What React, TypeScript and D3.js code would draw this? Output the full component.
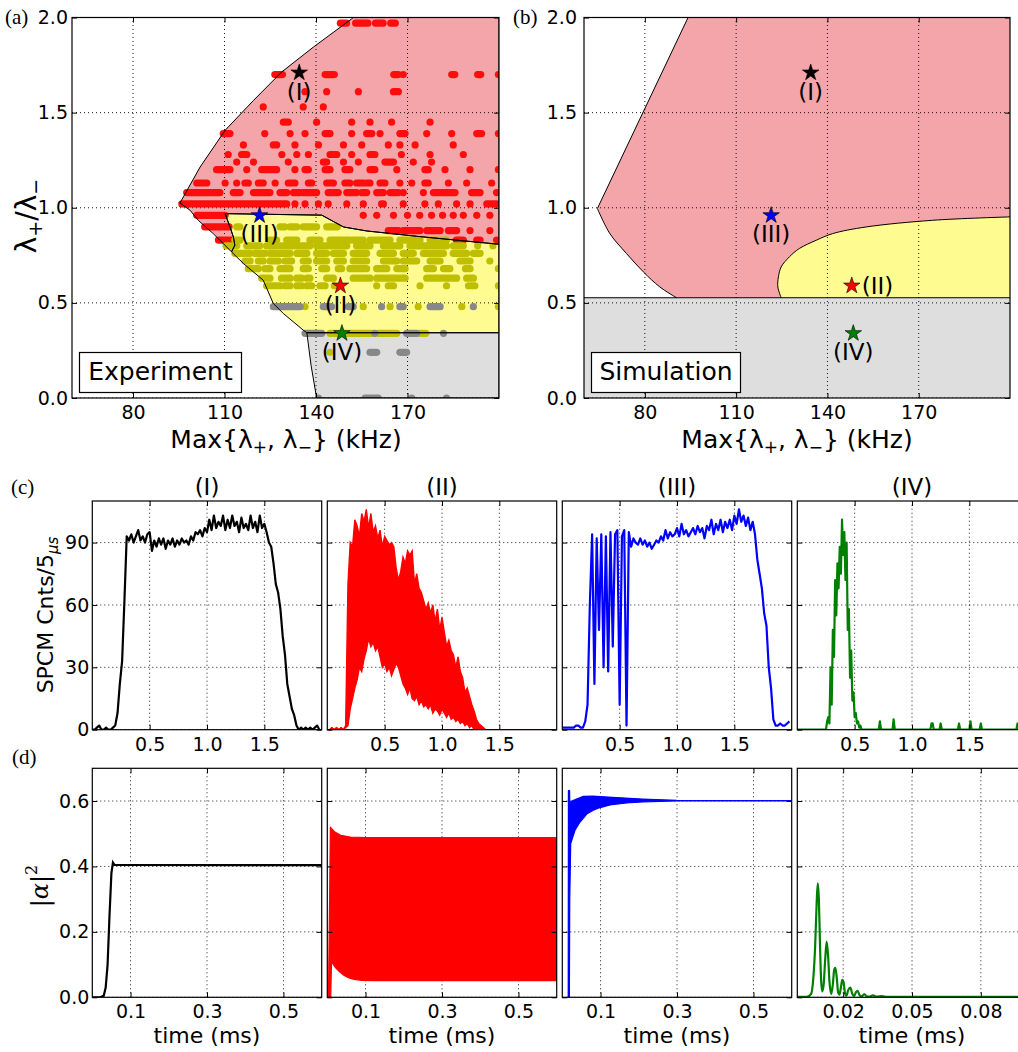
import * as d3 from "d3";
import {useEffect, useRef} from "react";

// ---------- (a), (b): phase diagrams ----------
const freqTicks = [80, 110, 140, 170];
const ratioTicks = [0, 0.5, 1.0, 1.5, 2.0];

// measured region outlines, [Max{λ+,λ−} kHz, λ+/λ−]
const expPink = [[95.4, 1.025], [102.0, 1.214], [110.2, 1.407], [119.5, 1.564], [128.7, 1.713], [139.1, 1.844], [151.7, 1.993], [152.2, 2.0], [200, 2.0], [200, 0.808], [173, 0.850], [156.6, 0.878], [149.0, 0.899], [141.9, 0.961], [110.2, 0.969], [111.8, 0.899], [112.9, 0.847], [113.4, 0.803], [112.3, 0.768], [109.6, 0.812], [106.3, 0.864], [101.4, 0.934], [98.7, 0.987]];
const expYellow = [[110.2, 0.969], [141.9, 0.961], [149.0, 0.899], [156.6, 0.878], [173, 0.850], [200, 0.808], [200, 0.343], [137, 0.343], [135.8, 0.357], [129.3, 0.444], [126, 0.497], [122.7, 0.619], [116.2, 0.707], [112.3, 0.768], [113.4, 0.803], [112.9, 0.847], [111.8, 0.899]];
const expGray = [[137, 0.343], [200, 0.343], [200, 0], [140.2, 0], [138.4, 0.17]];

// measured points: [ratio, x | [x0, x1], ...]  (a pair is a run of touching dots)
const redRows: any[] = [
  [1.97, [148, 150], [153, 157], [159.5, 162], [164.5, 166]],
  [1.70, [126.5, 129], [143, 146], [165.5, 167], 168.6, [184.5, 185.5], [193, 194], 199.8],
  [1.61, 136.4, 143.5, 153.9, [165.4, 167]],
  [1.53, 122.7, 135.8, 142.4],
  [1.45, [129.3, 130.9], 140.2, 151.7, 157.7, 164.8, 177.4],
  [1.39, [109.6, 111.8], 123.2, 131.5, 136.4, [143, 144.6], 151.7, [156.6, 158.3], 161, [167.5, 169.2], 176.3, 184.5, [192.7, 194.3], 199.8],
  [1.33, 116.2, [126, 127.1], 133.1, 140.8, 149, 155, 163.7, 167.5, 172.5, 185],
  [1.28, 111.2, [115.6, 117.3], 128.8, 133.7, 137.5, [144.6, 146.8], 151.7, [157.7, 159.3], 168, 177.4, 188.3],
  [1.24, 114, 119.5, 130.9, [142.4, 143.5], 149, 153.9, [162.6, 165.4], 171.9, 177.9],
  [1.20, [107.4, 111.8], 117.3, [122.2, 127.1], 133.1, [136.4, 137.5], [143, 144.6], [149.5, 151.1], [157.7, 159.3], 166.5, [175.7, 176.8], 182.3, 190.5, 199.8],
  [1.13, [100.9, 104.2], 110.2, 114, [116.7, 117.8], [121.1, 122.7], 126.6, [130.9, 133.1], [137.5, 138.6], [143.5, 145.7], [149.5, 151.1], [153.3, 155.5], [156.6, 157.7], [161, 162.6], 167.5, 171.4, [175.7, 176.8], 183.4, 189.4, 197.6],
  [1.08, [97.6, 108.5], [112.9, 115.1], [119.5, 124.9], [128.2, 130.4], [132.6, 134.8], [135.8, 140.2], [144, 147.3], [150.1, 153.3], [155, 156.6], [159.9, 162.1], [164.3, 167], 168.6, 175.2, [178.5, 185.6], [191, 193.8], 199.2],
  [1.02, [96, 130.4], 133.1, 136.4, 140.8, 144, 150.1, 155.5, [161.5, 162.1], 168.6, 175.7, 180.1, 186.1, 190.5, [196, 199.2]],
  [0.96, [100.9, 110.2], 155.5, 159.9, 165.4, 170, 174, 177.9, 181.5, 185, 188.3, 192.7, 197],
  [0.90, [103.5, 111.5]],
  [0.88, [163.7, 167], [168.6, 174.1], [176.3, 180.7], [183.4, 186.1], 190.5, 197],
  [0.83, [108, 112.5], [186, 188.3], [192.7, 193.8], 199.2],
];
const oliveRows: any[] = [
  [0.90, [114, 115], [128.2, 129.8], [131.5, 133.7], [135.8, 140.2], [143.5, 147]],
  [0.83, [113.4, 115.1], [124.9, 127.1], [130.4, 133.7], [138, 141.3], [144.6, 151.1], [152.2, 155.5], [157.7, 164.3], [167.5, 174.1], [177.4, 182.8]],
  [0.80, [110.5, 114], [117.3, 121.6], [123.8, 127.1], [128.2, 132.6], [133.7, 138], [140.2, 143.5], [144.6, 150.1], [153.3, 157.7], [162.1, 167.5], [170.8, 177.4], [178.5, 182.8], [185, 188.3], 193, 198],
  [0.76, [113.4, 118.4], [120, 123.3], [124.9, 131.5], [133.7, 137], [140.2, 143.5], [145.7, 149], [152.2, 156.6], [161, 165.4], [168.6, 171.9], [175.2, 181.8], [185, 189.4], [191.6, 193.8]],
  [0.72, [116.7, 118.4], [121.1, 122.7], [124.9, 127.7], [129.8, 132], [135.8, 137.5], [140.2, 143.5], [146.8, 149], [152.2, 156.6], [162.1, 166.5], [168.6, 173], [177.4, 180.7], [187.2, 190.5], 197],
  [0.68, [117.8, 121.1], [123.3, 124.9], [128.2, 131.5], [135.8, 137.5], [141.9, 143.5], [147.3, 148.4], [151.1, 156.6], [159.9, 163.2], [166.5, 169.2], [176.3, 178.5], [181.8, 183.9], [189, 190.5], 199.8],
  [0.63, [122.2, 124.9], [128.7, 131.5], [133.7, 135.3], [137, 138], [143.5, 145.7], [152.2, 157.7], [159.9, 169.2], [176.3, 186.1], [189.4, 191.6]],
  [0.59, [123.8, 128.2], [129.8, 131.5], [133.7, 135.3], [137, 138.6], [141.3, 143], 146, 159.9, [163.7, 165.4], 174.1, 182.8, [190, 192.1], 199.8],
  [0.48, 136.4, 155.5, 164.3, 173.5, 187.8, 199.8],
  [0.34, [144.6, 153.3], [153.9, 158.5], [160.5, 166.5], [174.1, 176]],
  [0.24, 144.6],
];
const grayRows: any[] = [
  [0.48, [126, 134.8], [142.4, 145.1], [150.6, 152.2], 161.5, [167.5, 168.6], [177.4, 180.7], 191.6],
  [0.34, [136.4, 141.9], 159.3, [169.7, 173], 181.8],
  [0.24, [157.7, 159.9], [167.5, 169.7]],
  [0.0, 140.8, [156.1, 160.4], 171.4, 182.8],
];

// simulated region boundaries
const simOuterTop = [[94.2, 2.0], [64.4, 0.996]];
const simOuterBottom = [[64.4, 0.996], [68.5, 0.864], [74, 0.759], [79.5, 0.663], [84.9, 0.584], [90.4, 0.527]];
const simYellowEdge = [[200, 0.952], [174.5, 0.934], [152.7, 0.899], [141.7, 0.864], [136.3, 0.829], [130.8, 0.786], [127.5, 0.742], [124.8, 0.689], [123.9, 0.637], [123.7, 0.584], [124.8, 0.527]];
const simFloor = 0.527;

const stateNames = ["(I)", "(II)", "(III)", "(IV)"];
const stateColors = ["#000000", "#ff0000", "#0000ff", "#008000"];
const stateFreq = [134.5, 148, 121.5, 148.5];
const stateRatio = [1.71, 0.59, 0.96, 0.34];

// ---------- (c): SPCM counts per 5 µs ----------
const cTimeTicks = [0.5, 1.0, 1.5];
const countTicks = [0, 30, 60, 90];
const cStep = 0.02; // ms between listed samples (I-III)
const countsI = [
  0, 0, 1, 2, 0, 0, 1, 0, 0, 1, 2, 8, 22, 33, 62, 93, 91, 94, 90, 93,
  96, 91, 93, 90, 94, 95, 86, 91, 88, 92, 89, 92, 87, 91, 89, 92, 88, 91, 89, 92,
  90, 91, 89, 93, 91, 95, 94, 96, 93, 97, 95, 101, 96, 103, 97, 100, 98, 103, 96, 101,
  97, 103, 98, 100, 95, 102, 97, 99, 96, 103, 97, 100, 95, 103, 97, 99, 95, 90, 88, 80,
  70, 66, 58, 45, 36, 22, 16, 10, 7, 2, 0, 1, 0, 1, 0, 1, 0, 1, 2, 0];
const countsIIHigh = [
  0, 0, 1, 0, 1, 0, 1, 0, 2, 70, 90, 88, 101, 98, 93, 104, 100, 106, 97, 104,
  95, 98, 92, 96, 88, 93, 91, 89, 90, 88, 78, 72, 76, 83, 80, 86, 84, 86, 70, 75,
  68, 66, 62, 58, 61, 56, 60, 52, 58, 48, 54, 47, 40, 43, 38, 36, 30, 35, 28, 25,
  18, 20, 16, 12, 9, 5, 3, 2, 1, 0, 0, 0, 0, 0, 0, 0, 0, 0, 0, 0,
  0, 0, 0, 0, 0, 0, 0, 0, 0, 0, 0, 0, 0, 0, 0, 0, 0, 0, 0, 0];
const countsIILow = [
  0, 0, 1, 0, 1, 0, 1, 0, 1, 2, 10, 15, 20, 24, 30, 28, 34, 38, 44, 40,
  42, 38, 40, 35, 30, 32, 28, 30, 26, 29, 32, 30, 26, 22, 20, 17, 20, 15, 14, 16,
  12, 14, 11, 12, 10, 12, 8, 10, 9, 7, 10, 8, 6, 8, 5, 6, 4, 5, 3, 4,
  2, 3, 1, 2, 0, 0, 0, 0, 0, 0, 0, 0, 0, 0, 0, 0, 0, 0, 0, 0,
  0, 0, 0, 0, 0, 0, 0, 0, 0, 0, 0, 0, 0, 0, 0, 0, 0, 0, 0, 0];
const countsIII = [
  1, 1, 1, 1, 1, 1, 2, 2, 1, 1, 4, 12, 60, 94, 22, 92, 48, 94, 30, 93,
  28, 95, 40, 94, 96, 12, 93, 96, 2, 95, 88, 92, 90, 89, 92, 89, 91, 88, 90, 87,
  89, 91, 90, 93, 91, 96, 92, 95, 93, 94, 97, 93, 99, 94, 96, 93, 95, 97, 94, 98,
  95, 97, 92, 98, 96, 101, 94, 99, 96, 101, 95, 100, 97, 101, 96, 103, 99, 106, 100, 103,
  98, 102, 96, 100, 94, 82, 75, 68, 56, 50, 30, 20, 5, 2, 2, 3, 2, 2, 3, 4];
const cStepIV = 0.01;
const countsIV = [
  0, 0, 0, 0, 0, 0, 0, 0, 0, 0, 0, 0, 0, 0, 0, 0, 0, 0, 0, 0,
  0, 0, 0, 0, 0, 0, 4, 6, 3, 30, 12, 48, 35, 72, 55, 80, 68, 88, 75, 101,
  84, 95, 72, 90, 48, 58, 25, 38, 14, 18, 6, 8, 3, 4, 1, 2, 0, 0, 0, 0,
  0, 0, 0, 0, 0, 0, 0, 0, 0, 0, 0, 0, 4, 0, 0, 0, 0, 0, 0, 0,
  0, 0, 0, 0, 5, 0, 0, 0, 0, 0, 0, 0, 0, 0, 0, 0, 0, 0, 0, 0,
  0, 0, 0, 0, 0, 0, 0, 0, 0, 0, 0, 0, 0, 0, 0, 0, 0, 3, 3, 0,
  0, 0, 0, 0, 0, 3, 0, 0, 0, 0, 0, 0, 0, 0, 0, 0, 0, 0, 0, 0,
  0, 3, 0, 0, 0, 0, 0, 0, 0, 0, 0, 4, 0, 0, 0, 0, 0, 0, 0, 0,
  3, 0, 0, 0, 0, 0, 0, 0, 0, 0, 0, 0, 0, 0, 0, 0, 0, 0, 0, 0,
  0, 0, 0, 0, 0, 0, 0, 0, 0, 0, 0, 0, 3, 0, 0, 0, 0, 0, 0, 0];

// ---------- (d): simulated |α|² ----------
const dTimeTicks = [0.1, 0.3, 0.5];
const dTimeTicksIV = [0.02, 0.05, 0.08];
const popTicks = [0, 0.2, 0.4, 0.6];
const popI = [[0, 0], [0.02, 0], [0.03, 0.005], [0.035, 0.03], [0.04, 0.1], [0.045, 0.25], [0.05, 0.38], [0.054, 0.412], [0.058, 0.405], [0.6, 0.404]];
const popIIHigh = [[0.003, 0], [0.006, 0.3], [0.008, 0.52], [0.012, 0.515], [0.02, 0.505], [0.035, 0.495], [0.06, 0.49], [0.1, 0.488], [0.6, 0.488]];
const popIILow = [[0.003, 0], [0.009, 0], [0.011, 0.11], [0.016, 0.1], [0.022, 0.09], [0.03, 0.08], [0.04, 0.07], [0.055, 0.06], [0.07, 0.055], [0.09, 0.052], [0.12, 0.051], [0.6, 0.051]];
const popIIIHigh = [[0.0155, 0], [0.016, 0.632], [0.019, 0.632], [0.0195, 0.595], [0.025, 0.6], [0.037, 0.606], [0.055, 0.614], [0.08, 0.615], [0.12, 0.612], [0.21, 0.606], [0.3, 0.602], [0.39, 0.601], [0.6, 0.601]];
const popIIILow = [[0.0185, 0], [0.0195, 0.3], [0.022, 0.47], [0.033, 0.51], [0.046, 0.535], [0.064, 0.56], [0.081, 0.572], [0.099, 0.58], [0.125, 0.588], [0.168, 0.594], [0.21, 0.597], [0.256, 0.599], [0.3, 0.6], [0.6, 0.6]];
const popIV = [[0, 0.001], [0.004, 0.001], [0.006, 0.01], [0.007, 0.06], [0.0078, 0.16], [0.0084, 0.28], [0.0089, 0.348], [0.0094, 0.3], [0.0099, 0.16], [0.0104, 0.05], [0.0109, 0.018], [0.0115, 0.04], [0.0122, 0.12], [0.0128, 0.17], [0.0134, 0.13], [0.014, 0.05], [0.0148, 0.01], [0.0155, 0.04], [0.0161, 0.085], [0.0166, 0.09], [0.0172, 0.06], [0.0178, 0.015], [0.0184, 0.008], [0.019, 0.03], [0.0196, 0.053], [0.0202, 0.045], [0.0208, 0.012], [0.0214, 0.005], [0.0222, 0.022], [0.0231, 0.03], [0.024, 0.01], [0.0248, 0.004], [0.0256, 0.016], [0.0263, 0.02], [0.0272, 0.006], [0.0282, 0.003], [0.0292, 0.01], [0.0302, 0.003], [0.0316, 0.002], [0.033, 0.006], [0.0345, 0.002], [0.037, 0.004], [0.039, 0.001], [0.045, 0.001], [0.1, 0.001]];

const SANS = "DejaVu Sans";
const SERIF = "Liberation Serif";
const PINK = "#f4a5a9", YELLOW = "#fefb91", GREY = "#dedede";
const TICK_FONT = 19;

function addClip(svg: any, id: string, x: any, y: any) {
  const [x0, x1] = x.range(), [y0, y1] = y.range();
  svg.append("defs").append("clipPath").attr("id", id).append("rect")
    .attr("x", x0).attr("y", y1).attr("width", x1 - x0).attr("height", y0 - y1);
}

function grid(g: any, x: any, y: any, xt: number[], yt: number[]) {
  const [x0, x1] = x.range(), [y0, y1] = y.range();
  const gg = g.append("g").attr("stroke", "#000").attr("stroke-width", 0.9).attr("stroke-dasharray", "1,3");
  gg.selectAll(".gx").data(xt).join("line").attr("class", "gx")
    .attr("x1", (d: number) => x(d)).attr("x2", (d: number) => x(d)).attr("y1", y0).attr("y2", y1);
  gg.selectAll(".gy").data(yt).join("line").attr("class", "gy")
    .attr("y1", (d: number) => y(d)).attr("y2", (d: number) => y(d)).attr("x1", x0).attr("x2", x1);
}

function frame(g: any, x: any, y: any, xt: number[], yt: number[], xf: any, yf: any, yPad: number) {
  const [x0, x1] = x.range(), [y0, y1] = y.range();
  const none = () => "";
  const put = (axis: any, tx: number, ty: number) => {
    const a = g.append("g").attr("transform", `translate(${tx},${ty})`).call(axis);
    a.select(".domain").remove();
    a.attr("font-size", TICK_FONT).attr("font-family", SANS);
    a.selectAll("line").attr("stroke-width", 1);
  };
  put(d3.axisBottom(x).tickValues(xt).tickSizeInner(-5).tickSizeOuter(0).tickPadding(7.5).tickFormat(xf || none), 0, y0);
  put(d3.axisTop(x).tickValues(xt).tickSizeInner(-5).tickSizeOuter(0).tickFormat(none), 0, y1);
  put(d3.axisLeft(y).tickValues(yt).tickSizeInner(-5).tickSizeOuter(0).tickPadding(yPad).tickFormat(yf || none), x0, 0);
  put(d3.axisRight(y).tickValues(yt).tickSizeInner(-5).tickSizeOuter(0).tickFormat(none), x1, 0);
  g.append("rect").attr("x", x0).attr("y", y1).attr("width", x1 - x0).attr("height", y0 - y1)
    .attr("fill", "none").attr("stroke", "#000").attr("stroke-width", 1.2);
}

function dots(g: any, rows: any[], color: string, x: any, y: any) {
  const dg = g.append("g").attr("fill", color).attr("stroke", color);
  rows.forEach((row: any[]) => {
    const r = row[0];
    row.slice(1).forEach((p: any) => {
      if (Array.isArray(p)) {
        dg.append("line").attr("x1", x(p[0])).attr("x2", x(p[1])).attr("y1", y(r)).attr("y2", y(r))
          .attr("stroke-width", 7.2).attr("stroke-linecap", "round");
      } else {
        dg.append("circle").attr("cx", x(p)).attr("cy", y(r)).attr("r", 3.6).attr("stroke", "none");
      }
    });
  });
}

function kHzLabel(svg: any, cx: number, y: number) {
  const t = svg.append("text").attr("x", cx).attr("y", y).attr("text-anchor", "middle")
    .attr("font-family", SANS).attr("font-size", 25);
  t.append("tspan").text("Max{λ");
  t.append("tspan").attr("font-size", 17).attr("dy", 5).text("+");
  t.append("tspan").attr("dy", -5).text(", λ");
  t.append("tspan").attr("font-size", 17).attr("dy", 5).text("−");
  t.append("tspan").attr("dy", -5).text("} (kHz)");
}

function stars(g: any, x: any, y: any, place: string[]) {
  const sym = d3.symbol().type(d3.symbolStar).size(85);
  stateNames.forEach((name, i) => {
    const sx = x(stateFreq[i]), sy = y(stateRatio[i]);
    g.append("path").attr("d", sym()).attr("transform", `translate(${sx},${sy})`)
      .attr("fill", stateColors[i]).attr("stroke", "#000").attr("stroke-width", 0.6);
    const right = place[i] === "right";
    g.append("text").attr("x", right ? sx + 10 : sx).attr("y", right ? sy + 8 : sy + 27)
      .attr("text-anchor", right ? "start" : "middle").attr("font-family", SANS).attr("font-size", 23)
      .text(name);
  });
}

function tagBox(g: any, x: any, y: any, w: number, label: string) {
  const [x0] = x.range(), [y0] = y.range();
  g.append("rect").attr("x", x0 + 7.5).attr("y", y0 - 45.5).attr("width", w).attr("height", 40)
    .attr("fill", "#fff").attr("stroke", "#000").attr("stroke-width", 1.2);
  g.append("text").attr("x", x0 + 7.5 + w / 2).attr("y", y0 - 18).attr("text-anchor", "middle")
    .attr("font-family", SANS).attr("font-size", 25).text(label);
}

function drawExperiment(svg: any) {
  const x = d3.scaleLinear().domain([60, 200]).range([72, 499]);
  const y = d3.scaleLinear().domain([0, 2]).range([398, 17.5]);
  addClip(svg, "clipA", x, y);
  const g = svg.append("g");
  const c = g.append("g").attr("clip-path", "url(#clipA)");
  const line = d3.line().x((d: any) => x(d[0])).y((d: any) => y(d[1]));
  c.append("path").attr("d", line(expPink as any) + "Z").attr("fill", PINK);
  c.append("path").attr("d", line(expYellow as any) + "Z").attr("fill", YELLOW);
  c.append("path").attr("d", line(expGray as any) + "Z").attr("fill", GREY);
  grid(c, x, y, freqTicks, ratioTicks);
  dots(c, redRows, "#ff0d0d", x, y);
  dots(c, oliveRows, "#bfbf00", x, y);
  dots(c, grayRows, "#888888", x, y);
  [expPink, expYellow, expGray].forEach(poly =>
    c.append("path").attr("d", line(poly as any) + "Z").attr("fill", "none").attr("stroke", "#000").attr("stroke-width", 1));
  stars(c, x, y, ["below", "below", "below", "below"]);
  tagBox(g, x, y, 162, "Experiment");
  frame(g, x, y, freqTicks, ratioTicks, d3.format("d"), d3.format(".1f"), 4);
  kHzLabel(svg, 286, 448);
  const yl = svg.append("text").attr("transform", "translate(36,216) rotate(-90)").attr("text-anchor", "middle")
    .attr("font-family", SANS).attr("font-size", 28);
  yl.append("tspan").text("λ");
  yl.append("tspan").attr("font-size", 19).attr("dy", 6).text("+");
  yl.append("tspan").attr("dy", -6).text("/λ");
  yl.append("tspan").attr("font-size", 19).attr("dy", 6).text("−");
  svg.append("text").attr("x", 5).attr("y", 24).attr("font-family", SERIF).attr("font-size", 21).text("(a)");
}

function drawSimulation(svg: any) {
  const x = d3.scaleLinear().domain([60, 200]).range([584, 1010]);
  const y = d3.scaleLinear().domain([0, 2]).range([398, 17.5]);
  addClip(svg, "clipB", x, y);
  const g = svg.append("g");
  const c = g.append("g").attr("clip-path", "url(#clipB)");
  const line = d3.line().x((d: any) => x(d[0])).y((d: any) => y(d[1]));
  const curve = d3.line().x((d: any) => x(d[0])).y((d: any) => y(d[1])).curve(d3.curveCatmullRom);
  const outer = line(simOuterTop as any) + (curve(simOuterBottom as any) as string).replace(/^M/, "L");
  c.append("path").attr("d", outer + `L${x(200)},${y(simFloor)}L${x(200)},${y(2)}Z`).attr("fill", PINK);
  const yEdge = curve(simYellowEdge as any) as string;
  c.append("path").attr("d", yEdge + `L${x(200)},${y(simFloor)}Z`).attr("fill", YELLOW);
  c.append("rect").attr("x", x(60)).attr("y", y(simFloor)).attr("width", x(200) - x(60)).attr("height", y(0) - y(simFloor)).attr("fill", GREY);
  grid(c, x, y, freqTicks, ratioTicks);
  c.append("path").attr("d", outer).attr("fill", "none").attr("stroke", "#000").attr("stroke-width", 1);
  c.append("path").attr("d", yEdge).attr("fill", "none").attr("stroke", "#000").attr("stroke-width", 1);
  c.append("line").attr("x1", x(60)).attr("x2", x(200)).attr("y1", y(simFloor)).attr("y2", y(simFloor)).attr("stroke", "#000").attr("stroke-width", 1);
  stars(c, x, y, ["below", "right", "below", "below"]);
  tagBox(g, x, y, 149, "Simulation");
  frame(g, x, y, freqTicks, ratioTicks, d3.format("d"), d3.format(".1f"), 7);
  kHzLabel(svg, 797, 448);
  svg.append("text").attr("x", 513).attr("y", 24).attr("font-family", SERIF).attr("font-size", 21).text("(b)");
}

const lefts = [92.3, 327.3, 562.3, 797.3];
const panelW = 229.4;

function drawCounts(svg: any) {
  const y = d3.scaleLinear().domain([0, 110]).range([729.7, 501]);
  const series = [countsI, null, countsIII, countsIV];
  lefts.forEach((L, i) => {
    const x = d3.scaleLinear().domain([0, 2]).range([L, L + panelW]);
    addClip(svg, "clipC" + i, x, y);
    const g = svg.append("g");
    const c = g.append("g").attr("clip-path", `url(#clipC${i})`);
    grid(c, x, y, cTimeTicks, countTicks);
    const step = i === 3 ? cStepIV : cStep;
    const line = d3.line<number>().x((_d, k) => x(k * step)).y(d => y(d));
    if (i === 1) {
      const area = d3.area<number>().x((_d, k) => x(k * cStep)).y0((_d, k) => y(countsIILow[k])).y1(d => y(d));
      c.append("path").attr("d", area(countsIIHigh)).attr("fill", "#ff0000");
      c.append("path").attr("d", line(countsIIHigh)).attr("fill", "none").attr("stroke", "#ff0000").attr("stroke-width", 1.4);
      c.append("path").attr("d", line(countsIILow)).attr("fill", "none").attr("stroke", "#ff0000").attr("stroke-width", 1.4);
    } else {
      c.append("path").attr("d", line(series[i] as number[])).attr("fill", "none")
        .attr("stroke", stateColors[i]).attr("stroke-width", 2.2).attr("stroke-linejoin", "round");
    }
    frame(g, x, y, cTimeTicks, countTicks, d3.format(".1f"), i === 0 ? d3.format("d") : null, 3);
    svg.append("text").attr("x", L + panelW / 2).attr("y", 495).attr("text-anchor", "middle")
      .attr("font-family", SANS).attr("font-size", 23).text(stateNames[i]);
  });
  const yl = svg.append("text").attr("transform", "translate(53,615) rotate(-90)").attr("text-anchor", "middle")
    .attr("font-family", SANS).attr("font-size", 22);
  yl.append("tspan").text("SPCM Cnts/5");
  yl.append("tspan").attr("font-size", 15).attr("font-style", "italic").attr("dy", 5).text("μs");
  svg.append("text").attr("x", 11).attr("y", 494).attr("font-family", SERIF).attr("font-size", 21).text("(c)");
}

function drawPopulation(svg: any) {
  const y = d3.scaleLinear().domain([0, 0.7]).range([997.3, 768.3]);
  lefts.forEach((L, i) => {
    const x = d3.scaleLinear().domain([0, i === 3 ? 0.1 : 0.6]).range([L, L + panelW]);
    const xt = i === 3 ? dTimeTicksIV : dTimeTicks;
    addClip(svg, "clipD" + i, x, y);
    const g = svg.append("g");
    const c = g.append("g").attr("clip-path", `url(#clipD${i})`);
    grid(c, x, y, xt, popTicks);
    const line = d3.line().x((d: any) => x(d[0])).y((d: any) => y(d[1]));
    const col = stateColors[i];
    if (i === 1 || i === 2) {
      const hi = i === 1 ? popIIHigh : popIIIHigh, lo = i === 1 ? popIILow : popIIILow;
      const band = line([...hi, ...[...lo].reverse()] as any) + "Z";
      c.append("path").attr("d", band).attr("fill", col).attr("stroke", col).attr("stroke-width", 1.2).attr("stroke-linejoin", "round");
    } else {
      const data = i === 0 ? popI : popIV;
      const ln = i === 3 ? d3.line().x((d: any) => x(d[0])).y((d: any) => y(d[1])).curve(d3.curveMonotoneX) : line;
      c.append("path").attr("d", ln(data as any)).attr("fill", "none").attr("stroke", col).attr("stroke-width", 2.2);
    }
    frame(g, x, y, xt, popTicks, d3.format(i === 3 ? ".2f" : ".1f"), i === 0 ? d3.format(".1f") : null, 3);
    svg.append("text").attr("x", L + panelW / 2).attr("y", 1043).attr("text-anchor", "middle")
      .attr("font-family", SANS).attr("font-size", 22).text("time (ms)");
  });
  const yl = svg.append("text").attr("transform", "translate(48,886) rotate(-90)").attr("text-anchor", "middle")
    .attr("font-family", "DejaVu Serif").attr("font-size", 24);
  yl.append("tspan").text("|");
  yl.append("tspan").attr("font-style", "italic").text("α");
  yl.append("tspan").text("|");
  yl.append("tspan").attr("font-size", 16).attr("dy", -11).text("2");
  svg.append("text").attr("x", 12).attr("y", 764).attr("font-family", SERIF).attr("font-size", 21).text("(d)");
}

export default function App() {
  const ref = useRef<SVGSVGElement>(null);

  useEffect(() => {
    const svg = d3.select(ref.current);
    svg.selectAll("*").remove();
    drawExperiment(svg);
    drawSimulation(svg);
    drawCounts(svg);
    drawPopulation(svg);
  }, []);

  return (
    <svg ref={ref} width={1018} height={1052}
      style={{position: "absolute", left: 0, top: 0, background: "#fff"}} />
  );
}
